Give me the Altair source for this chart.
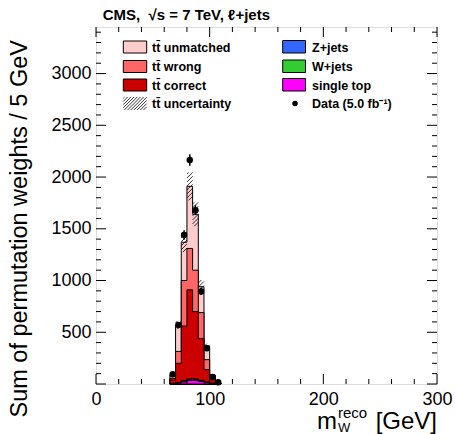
import altair as alt
import pandas as pd

# ---- reconstructed W-mass distribution, 5 GeV bins ----
bin_low = [65, 70, 75, 80, 85, 90, 95, 100, 105]
BIN_W = 5

single_top = [3, 8, 20, 35, 35, 25, 12, 4, 1]
w_jets = [2, 4, 8, 10, 10, 8, 5, 2, 1]
z_jets = [0.5, 1, 2, 3, 3, 2, 1, 0.5, 0]
tt_correct = [35, 187, 530, 862, 652, 405, 122, 53, 3]
tt_wrong = [15, 115, 440, 400, 400, 250, 95, 15, 3]
tt_unmatched = [30, 255, 370, 600, 540, 250, 130, 12, 2]
tt_unc = [6, 40, 95, 135, 115, 65, 25, 6, 1]

data_vals = [95, 570, 1440, 2165, 1680, 895, 345, 68, 18]
data_err = [12, 28, 45, 55, 48, 35, 22, 10, 5]

x_tick_labels = [0, 100, 200, 300]
y_tick_labels = [500, 1000, 1500, 2000, 2500, 3000]

# ---- geometry ----
W, H = 341, 357
XMAX, YMAX = 300, 3450
PX_X = W / XMAX          # pixels per GeV
VAL_PX = YMAX / H        # y units per pixel
FONT = "Liberation Sans"

x_scale = alt.Scale(domain=[0, XMAX], nice=False, zero=False)
y_scale = alt.Scale(domain=[0, YMAX], nice=False, zero=False)

x_axis = alt.Axis(values=x_tick_labels, labelFontSize=18, labelFont=FONT, labelColor="black",
                  ticks=False, domain=False, grid=False, title=None,
                  labelPadding=6, labelFlush=False, format="d")
y_axis = alt.Axis(values=y_tick_labels, labelFontSize=18, labelFont=FONT, labelColor="black",
                  ticks=False, domain=False, grid=False, title=None,
                  labelPadding=5, format="d")


def X(field):
    return alt.X(field, type="quantitative", scale=x_scale, axis=x_axis)


def Y(field):
    return alt.Y(field, type="quantitative", scale=y_scale, axis=y_axis)


# ---- stacked histograms (bottom to top) ----
stack = [
    ("single top", single_top, "#ff00ff"),
    ("W+jets", w_jets, "#33cc33"),
    ("Z+jets", z_jets, "#3366ff"),
    ("correct", tt_correct, "#cc0000"),
    ("wrong", tt_wrong, "#ff6666"),
    ("unmatched", tt_unmatched, "#ffcccc"),
]
cumulative = []
running = [0.0] * len(bin_low)
for name, vals, color in stack:
    running = [r + v for r, v in zip(running, vals)]
    cumulative.append((name, list(running), color))
total = cumulative[-1][1]

edges = bin_low + [bin_low[-1] + BIN_W]


def step_frame(cum):
    return pd.DataFrame({"x": edges, "y": list(cum) + [cum[-1]]})


layers = []
for name, cum, color in reversed(cumulative):
    layers.append(
        alt.Chart(step_frame(cum)).mark_area(
            interpolate="step-after", fill=color, stroke="black", strokeWidth=1
        ).encode(x=X("x"), y=Y("y"))
    )


# ---- hatched uncertainty band ----
def hatch(x0, x1, lo, hi, spacing_px=4.0):
    k = PX_X * VAL_PX               # 45 degree slope in data units
    step = spacing_px * VAL_PX
    out = []
    c = -k * (x1 - x0)
    while c < hi - lo:
        xa = max(x0, x0 - c / k)
        xb = min(x1, x0 + (hi - lo - c) / k)
        if xb > xa:
            out.append((xa, lo + k * (xa - x0) + c, xb, lo + k * (xb - x0) + c))
        c += step
    return out


segs = []
for x0, tot, u in zip(bin_low, total, tt_unc):
    segs += hatch(x0, x0 + BIN_W, tot - u, tot + u)
hatch_df = pd.DataFrame(segs, columns=["xa", "ya", "xb", "yb"])
layers.append(
    alt.Chart(hatch_df).mark_rule(color="black", strokeWidth=0.8).encode(
        x=X("xa"), x2="xb", y=Y("ya"), y2="yb",
    )
)

# ---- data points ----
data_df = pd.DataFrame({
    "x": [b + BIN_W / 2 for b in bin_low],
    "y": data_vals,
    "lo": [v - e for v, e in zip(data_vals, data_err)],
    "hi": [v + e for v, e in zip(data_vals, data_err)],
})
layers.append(
    alt.Chart(data_df).mark_rule(color="black", strokeWidth=1.5).encode(
        x=X("x"), y=Y("lo"), y2="hi",
    )
)
layers.append(
    alt.Chart(data_df).mark_point(filled=True, color="black", size=42, opacity=1).encode(
        x=X("x"), y=Y("y"),
    )
)

# ---- inward tick marks on all four sides ----
tick_rows = []
for t in range(0, XMAX + 1, 20):
    ln = (10 if t % 100 == 0 else 5) * VAL_PX
    tick_rows.append((t, t, 0, ln))
    tick_rows.append((t, t, YMAX, YMAX - ln))
for t in range(0, YMAX + 1, 100):
    ln = (10 if t % 500 == 0 else 5) / PX_X
    tick_rows.append((0, ln, t, t))
    tick_rows.append((XMAX, XMAX - ln, t, t))
ticks_df = pd.DataFrame(tick_rows, columns=["xa", "xb", "ya", "yb"])
layers.append(
    alt.Chart(ticks_df).mark_rule(color="black", strokeWidth=1).encode(
        x=X("xa"), x2="xb", y=Y("ya"), y2="yb",
    )
)

one = pd.DataFrame({"k": [0]})


def text(s, x, y, size, weight="bold", align="left", baseline="alphabetic", angle=0, style="normal"):
    return alt.Chart(one).mark_text(
        text=s, fontSize=size, fontWeight=weight, align=align, baseline=baseline,
        angle=angle, font=FONT, fontStyle=style, color="black",
    ).encode(x=alt.value(x), y=alt.value(y))


def box(x0, x1, y0, y1, fill):
    return alt.Chart(one).mark_rect(fill=fill, stroke="black", strokeWidth=1).encode(
        x=alt.value(x0), x2=alt.value(x1), y=alt.value(y0), y2=alt.value(y1)
    )


# ---- legend ----
LX0, LX1, LT = 27.3, 50.7, 56
RX0, RX1, RT = 186.7, 209.5, 216
rows = [20, 39.5, 58, 76.5]
left_entries = [("t\u0074\u0304 unmatched", "#ffcccc"), ("t\u0074\u0304 wrong", "#ff6666"),
                ("t\u0074\u0304 correct", "#cc0000")]
right_entries = [("Z+jets", "#3366ff"), ("W+jets", "#33cc33"), ("single top", "#ff00ff")]
for (lab, col), cy in zip(left_entries, rows):
    layers.append(box(LX0, LX1, cy - 6, cy + 6, col))
    layers.append(text(lab, LT, cy + 4.5, 12.5))
for (lab, col), cy in zip(right_entries, rows):
    layers.append(box(RX0, RX1, cy - 6.5, cy + 6, col))
    layers.append(text(lab, RT, cy + 4.5, 12.5))

# hatched legend swatch, drawn in data units of the plot
cy = rows[3]
bx0, bx1 = LX0 / PX_X, LX1 / PX_X
by0, by1 = YMAX - (cy + 6.5) * VAL_PX, YMAX - (cy - 6.5) * VAL_PX
leg_hatch = pd.DataFrame(hatch(bx0, bx1, by0, by1, spacing_px=3.2), columns=["xa", "ya", "xb", "yb"])
layers.append(
    alt.Chart(leg_hatch).mark_rule(color="black", strokeWidth=0.8).encode(
        x=X("xa"), x2="xb", y=Y("ya"), y2="yb",
    )
)
layers.append(text("t\u0074\u0304 uncertainty", LT, cy + 4.5, 12.5))
layers.append(
    alt.Chart(one).mark_point(filled=True, color="black", size=30, opacity=1).encode(
        x=alt.value(199), y=alt.value(cy)
    )
)
layers.append(text("Data (5.0 fb\u207b\u00b9)", RT, cy + 4.5, 12.5))

# ---- titles ----
layers.append(text("CMS,\u00a0\u00a0\u221as = 7 TeV, \u2113+jets", 6.7, -7, 15))
layers.append(text("Sum of permutation weights / 5 GeV", -69, 13, 23.5, weight="normal",
                   align="right", angle=270))
layers.append(text("m", 221, 402, 24, weight="normal"))
layers.append(text("reco", 242, 391, 15, weight="normal"))
layers.append(text("W", 242, 405, 13, weight="normal"))
layers.append(text("[GeV]", 341, 402, 24, weight="normal", align="right"))

chart = alt.layer(*layers).properties(
    width=W, height=H,
    autosize=alt.AutoSizeParams(type="none"),
    padding={"left": 96, "top": 27, "right": 18, "bottom": 50},
).configure_view(
    stroke="black", strokeWidth=1.8
).configure(
    font=FONT, background="white"
)

chart.save("out.html", embed_options={"renderer": "svg", "actions": False})
